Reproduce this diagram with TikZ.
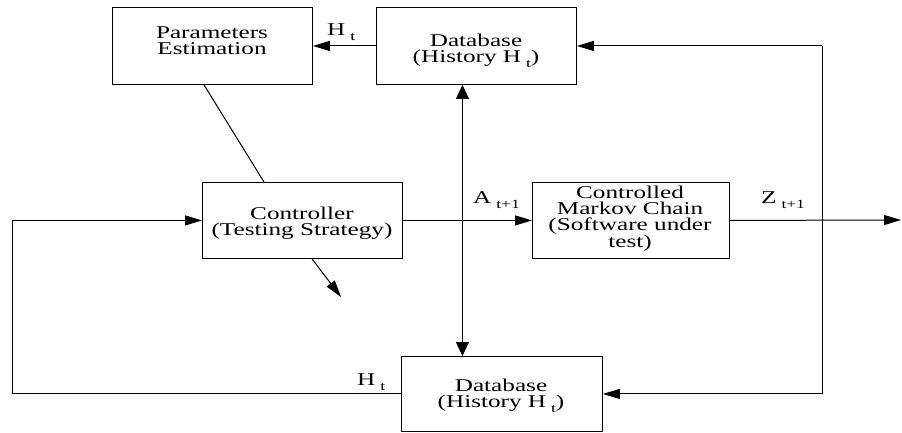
\documentclass[tikz,border=0pt]{standalone}
\usepackage{fontspec}
\setmainfont{Liberation Serif}
\usetikzlibrary{arrows.meta,calc}
\newcommand\sx[1]{\scalebox{1.4}[1]{#1}}
\newcommand\subs[1]{\hspace{3.5pt}\raisebox{-5pt}{\fontsize{12.5}{12.5}\selectfont #1}}
\tikzset{
 boxn/.style={draw, line width=0.9pt, anchor=north west, inner sep=0pt},
 txt/.style={inner sep=0pt, align=center, font=\fontsize{18}{16}\selectfont},
 lab/.style={inner sep=0pt, anchor=base west, font=\fontsize{18}{16}\selectfont},
 ln/.style={line width=1pt},
 harr/.style={ln, -{Triangle[length=17pt,width=10pt]}},
 varr/.style={ln, {Triangle[length=14pt,width=13pt]}-{Triangle[length=14pt,width=13pt]}},
}
\begin{document}
\begin{tikzpicture}[x=1pt,y=-1pt]
\useasboundingbox (0,0) rectangle (902,433);
% boxes
\node[boxn, minimum width=200pt, minimum height=77pt] (pe) at (112,7) {};
\node[boxn, minimum width=200pt, minimum height=77pt] (dbt) at (376,7) {};
\node[boxn, minimum width=200pt, minimum height=76pt] (ctl) at (202,182) {};
\node[boxn, minimum width=197pt, minimum height=76pt] (mc) at (532,182) {};
\node[boxn, minimum width=201pt, minimum height=75pt] (dbb) at (401,356) {};
% box texts
\node[txt] (pet) at (212,41) {\sx{Parameters}\\\sx{Estimation}};
\node[txt] (dbtt) at (476,51) {\sx{Database}\\\sx{(History H\subs{t})}};
\node[txt] (ctlt) at (302,223) {\sx{Controller}\\\sx{(Testing Strategy)}};
\node[txt] (mct) at (630,219) {\sx{Controlled}\\\sx{Markov Chain}\\\sx{(Software under}\\\sx{test)}};
\node[txt] (dbbt) at (501,396) {\sx{Database}\\\sx{(History H\subs{t})}};
% labels
\node[lab] (l1) at (327,36) {\sx{H\subs{t}}};
\node[lab] (l2) at (357,385) {\sx{H\subs{t}}};
\node[lab] (l3) at (473,203) {\sx{A\subs{t+1}}};
\node[lab] (l4) at (761,203) {\sx{Z\subs{t+1}}};
% helper coordinates
\coordinate (rx) at (822,0);
\coordinate (lx) at (12,0);
\coordinate (out) at (901,220);
\coordinate (diag) at (341,297);
% connectors
\draw[harr] (dbt.west) -- (pe.east);
\draw[ln] ($(pe.south west)+(92,0)$) -- ($(ctl.north west)+(62,0)$);
\draw[varr] ([xshift=-14pt]dbt.south) -- ([xshift=-14pt]dbt.south |- dbb.north);
\draw[harr] (ctl.east) -- (mc.west);
\draw[harr] (mc.east) -- (out);
\draw[harr] (dbb.west) -- (dbb.west -| lx) |- (ctl.west);
\draw[harr] (dbt.east -| rx) -- (dbt.east);
\draw[harr] (dbt.east -| rx) -- (dbb.east -| rx) -- (dbb.east);
\draw[harr] ($(ctl.south west)+(110,0)$) -- (diag);
\end{tikzpicture}
\end{document}
